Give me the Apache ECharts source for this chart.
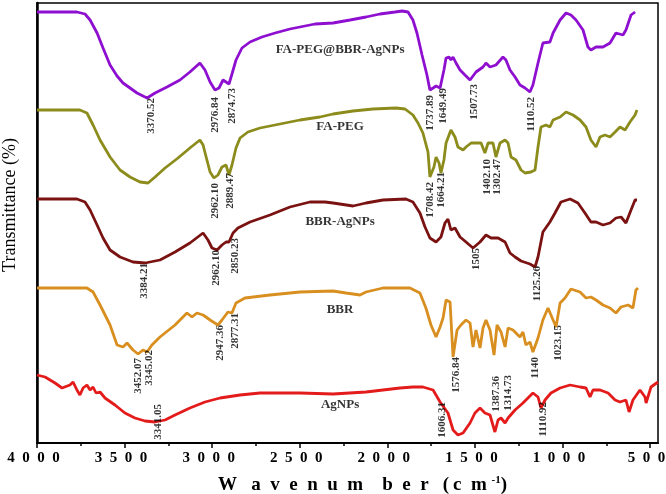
<!DOCTYPE html>
<html>
<head>
<meta charset="utf-8">
<script src="https://cdn.jsdelivr.net/npm/echarts@6/dist/echarts.min.js"></script>
<style>html,body{margin:0;padding:0;background:#fff}#c{width:666px;height:494px}</style>
</head>
<body>
<div id="c"></div>
<script>
// Wavenumber (cm-1) vs transmittance (stacked, arbitrary units)
const faPegBbrAgnps = [[4000,431],[3772,431],[3726,429],[3697,423],[3657,410],[3623,395],[3583,378],[3543,367],[3509,360],[3469,355],[3429,350],[3372,345],[3326,350],[3258,356],[3184,363],[3127,371],[3070,380],[3041,373],[3012,361],[2984,353],[2961,355],[2938,363],[2921,361],[2904,359],[2887,369],[2864,383],[2830,395],[2784,401],[2716,406],[2641,410],[2556,414],[2499,416],[2413,419],[2310,420],[2213,423],[2122,426],[2042,429],[1956,431],[1916,432],[1882,431],[1854,423],[1831,410],[1802,388],[1774,368],[1757,353],[1739,355],[1722,357],[1699,355],[1677,373],[1665,385],[1648,386],[1637,383],[1625,386],[1608,380],[1585,373],[1557,368],[1528,363],[1494,371],[1454,376],[1437,380],[1414,376],[1380,378],[1340,386],[1323,383],[1300,373],[1271,366],[1243,358],[1214,355],[1186,351],[1169,358],[1140,380],[1112,400],[1072,401],[1054,410],[1014,423],[980,430],[952,428],[923,423],[883,413],[855,396],[838,393],[809,396],[769,396],[729,400],[695,410],[655,408],[638,413],[609,428],[586,431]];
const faPeg = [[4000,333],[3755,333],[3715,330],[3680,318],[3640,303],[3583,286],[3526,273],[3469,266],[3412,261],[3366,260],[3326,266],[3269,275],[3195,285],[3127,295],[3070,303],[3052,298],[3030,283],[3012,271],[2990,265],[2967,268],[2944,276],[2921,278],[2904,268],[2887,278],[2864,295],[2841,305],[2796,311],[2727,315],[2613,319],[2499,323],[2385,326],[2310,329],[2196,332],[2082,334],[1951,335],[1899,334],[1854,328],[1825,320],[1797,310],[1768,291],[1757,266],[1734,276],[1722,286],[1705,280],[1694,270],[1677,283],[1665,300],[1637,313],[1614,306],[1597,296],[1568,293],[1551,296],[1522,300],[1494,300],[1465,300],[1443,290],[1425,300],[1397,300],[1380,286],[1357,300],[1328,303],[1311,300],[1294,286],[1266,283],[1237,273],[1214,270],[1180,271],[1157,273],[1140,296],[1123,316],[1094,318],[1072,316],[1054,323],[1014,326],[980,331],[940,328],[900,323],[866,316],[838,303],[809,296],[786,306],[758,308],[729,306],[700,311],[672,316],[643,313],[615,321],[586,328],[575,333]];
const bbrAgnps = [[4000,244],[3772,244],[3726,241],[3697,233],[3657,218],[3623,205],[3583,193],[3526,186],[3452,181],[3383,180],[3298,183],[3212,191],[3127,200],[3052,210],[3024,203],[3001,195],[2972,193],[2944,198],[2921,201],[2904,201],[2881,210],[2853,215],[2784,221],[2670,228],[2556,236],[2442,241],[2356,241],[2310,240],[2196,237],[2122,240],[2025,243],[1894,244],[1854,241],[1814,230],[1785,216],[1757,205],[1722,201],[1694,206],[1671,220],[1654,224],[1637,213],[1614,215],[1585,206],[1551,201],[1511,195],[1471,201],[1437,208],[1408,205],[1368,205],[1328,201],[1300,190],[1271,186],[1237,182],[1186,179],[1157,176],[1140,186],[1112,211],[1072,221],[1043,230],[1009,241],[957,244],[912,240],[872,230],[838,221],[809,221],[769,218],[729,220],[695,225],[666,226],[638,220],[609,233],[586,243],[575,243]];
const bbr = [[4000,155],[3715,155],[3680,151],[3640,138],[3583,118],[3543,98],[3509,96],[3486,100],[3452,93],[3423,89],[3395,93],[3372,91],[3344,98],[3298,106],[3212,118],[3144,130],[3115,126],[3087,130],[3052,128],[3012,123],[2967,118],[2944,123],[2910,131],[2887,130],[2864,140],[2813,145],[2670,148],[2499,151],[2310,152],[2236,150],[2156,148],[2122,151],[2025,155],[1871,155],[1814,150],[1780,135],[1751,118],[1722,106],[1699,116],[1682,125],[1665,143],[1642,141],[1625,86],[1602,113],[1580,118],[1551,123],[1528,120],[1511,96],[1494,113],[1471,95],[1454,115],[1437,123],[1414,113],[1391,88],[1374,118],[1351,111],[1328,96],[1311,115],[1283,113],[1243,106],[1226,111],[1209,98],[1186,101],[1169,91],[1140,105],[1112,123],[1083,135],[1066,128],[1037,116],[1014,140],[986,145],[952,154],[900,151],[866,145],[838,146],[809,143],[769,138],[729,135],[695,130],[666,136],[626,138],[598,135],[581,153],[569,155]];
const agnps = [[4000,68],[3954,66],[3897,60],[3857,55],[3812,58],[3794,61],[3772,53],[3755,48],[3737,55],[3715,58],[3697,53],[3680,56],[3663,50],[3640,51],[3612,45],[3555,38],[3498,30],[3441,25],[3383,22],[3326,21],[3269,23],[3212,28],[3127,35],[3041,41],[2955,45],[2841,48],[2727,50],[2499,50],[2310,49],[2122,51],[1928,55],[1854,56],[1797,56],[1739,53],[1699,41],[1654,30],[1625,13],[1597,8],[1568,10],[1528,20],[1500,30],[1471,35],[1443,30],[1414,28],[1386,11],[1368,23],[1351,25],[1328,20],[1311,25],[1271,33],[1226,40],[1169,50],[1140,46],[1123,35],[1100,43],[1066,50],[1014,55],[957,58],[900,56],[866,55],[843,46],[826,53],[786,53],[740,50],[700,43],[672,41],[638,43],[620,31],[598,43],[558,53],[529,46],[523,40],[495,56],[455,61]];

const seriesNames = ['FA-PEG@BBR-AgNPs','FA-PEG','BBR-AgNPs','BBR','AgNPs'];
const seriesColors = ['#8e0fd0','#8c8c1c','#7a1212','#d98f1f','#e31b1b'];
const seriesData = [faPegBbrAgnps, faPeg, bbrAgnps, bbr, agnps];
const nameAnchors = [[2270,393],[2270,316],[2270,221],[2270,133],[2270,38]];

const peakLabels = [
 [3349,345,'3370.52'],[2984,346,'2976.84'],[2887,355,'2874.73'],
 [1757,348,'1737.89'],[1682,355,'1649.49'],[1505,359,'1507.73'],[1180,346,'1110.52'],
 [2984,260,'2962.10'],[2898,270,'2889.47'],
 [1757,261,'1708.42'],[1694,271,'1664.21'],[1431,284,'1402.10'],[1374,284,'1302.47'],
 [3389,180,'3384.21'],[2978,193,'2962.10'],[2870,205,'2850.23'],[1494,195,'1505'],[1146,177,'1125.26'],
 [3423,85,'3452.07'],[3361,93,'3345.02'],[2955,118,'2947.36'],[2870,130,'2877.31'],
 [1608,86,'1576.84'],[1157,86,'1140'],[1026,118,'1023.15'],
 [3309,39,'3341.05'],[1688,41,'1606.31'],[1380,67,'1387.36'],[1311,68,'1314.73'],[1112,41,'1110.92']
];

const xTicks = [4000,3500,3000,2500,2000,1500,1000,500];
const xMinorTicks = [3750,3250,2750,2250,1750,1250,750];

const FONT = '"Liberation Serif","Times New Roman",serif';
const chart = echarts.init(document.getElementById('c'));

const lineSeries = seriesData.map((d,i)=>({
  type:'line', name:seriesNames[i], data:d, showSymbol:false, symbol:'none',
  lineStyle:{width:2.8,color:seriesColors[i]}, itemStyle:{color:seriesColors[i]},
  z:2, silent:true, animation:false
}));

chart.setOption({
  animation:false,
  grid:{left:37,right:8,top:3,bottom:51,containLabel:false,outerBoundsMode:'none',
    show:true,borderColor:'#000',borderWidth:1.5,backgroundColor:'transparent'},
  xAxis:[{
    type:'value', min:455, max:4000, inverse:true, position:'bottom',
    axisLine:{show:true,onZero:false,lineStyle:{color:'#000',width:2}},
    axisTick:{show:true,customValues:xTicks,length:5,inside:false,lineStyle:{color:'#000',width:1.5}},
    axisLabel:{show:true,customValues:xTicks,margin:8,color:'#000',fontFamily:FONT,fontWeight:'bold',fontSize:15,
      padding:[0,7,0,0],hideOverlap:false,
      formatter:v=>String(v).split('').join('\u2002')},
    splitLine:{show:false}
  },{
    type:'value', min:455, max:4000, inverse:true, position:'bottom', offset:0,
    axisLine:{show:false},
    axisTick:{show:true,customValues:xMinorTicks,length:3,inside:false,lineStyle:{color:'#000',width:1.5}},
    axisLabel:{show:false}, splitLine:{show:false}
  }],
  yAxis:{
    type:'value', min:0, max:440,
    axisLine:{show:true,onZero:false,lineStyle:{color:'#000',width:2.5}},
    axisTick:{show:false}, axisLabel:{show:false}, splitLine:{show:false}
  },
  series:[...lineSeries,
    {type:'scatter', data:peakLabels, symbolSize:0, z:5, silent:true,
     label:{show:true,position:'inside',rotate:90,align:'right',verticalAlign:'middle',
       formatter:p=>p.data[2],color:'#000',fontFamily:FONT,fontWeight:'bold',fontSize:11}},
    {type:'scatter', data:nameAnchors.map((a,i)=>[a[0],a[1],seriesNames[i]]), symbolSize:0, z:5, silent:true,
     label:{show:true,position:'inside',align:'center',verticalAlign:'middle',
       formatter:p=>p.data[2],color:'#000',fontFamily:FONT,fontWeight:'bold',fontSize:13}}
  ],
  graphic:[
    {type:'text', x:10, y:205, rotation:Math.PI/2,
     style:{text:'Transmittance (%)',fill:'#000',font:'18px '+FONT,align:'center',verticalAlign:'middle'}},
    {type:'text', x:218, y:485,
     style:{text:'W\u2002 a\u2002v\u2002e\u2002n\u2002u\u2002m\u2002\u2002b\u2002e\u2002r\u2002 (\u2009c\u2002m {s|-1})',
       fill:'#000',font:'bold 19px '+FONT,align:'left',verticalAlign:'middle',
       rich:{s:{fontSize:11,fontWeight:'bold',fontFamily:FONT,verticalAlign:'top',padding:[0,0,10,0]}}}}
  ]
});
</script>
</body>
</html>
